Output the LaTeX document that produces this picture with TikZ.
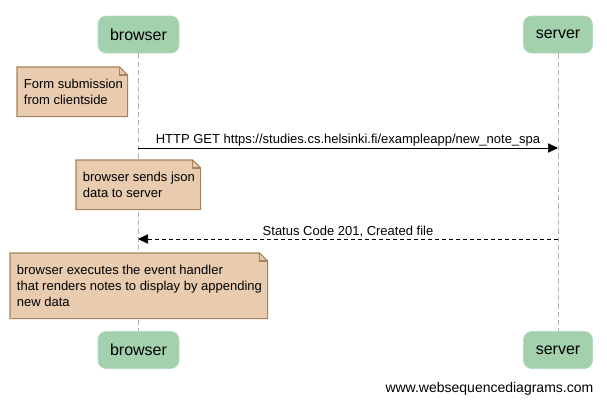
\documentclass[tikz,border=0pt]{standalone}
\usepackage{fontspec}
\setmainfont{Liberation Sans}
\usetikzlibrary{arrows.meta}

\definecolor{actorgreen}{HTML}{A3D0AD}
\definecolor{actorline}{HTML}{B4D9BD}
\definecolor{notefill}{HTML}{E9CBAF}
\definecolor{noteline}{HTML}{A5825A}
\definecolor{lifegray}{HTML}{B4B4B4}

% folded-corner outline round a note node
\newcommand{\notefold}[1]{%
  \filldraw[fill=notefill, draw=noteline, thick]
    (#1.south west) -- (#1.north west) -- ([xshift=-6pt]#1.north east)
    -- ([yshift=-6pt]#1.north east) -- (#1.south east) -- cycle;
  \draw[noteline, thick] ([xshift=-6pt]#1.north east)
    |- ([yshift=-6pt]#1.north east);
}

\begin{document}
\begin{tikzpicture}[x=0.75pt, y=-0.75pt,
    actor/.style ={rectangle, rounded corners=6pt, fill=actorgreen, draw=actorline,
                   minimum height=27.75pt, font=\fontsize{12}{14}\selectfont},
    notebox/.style ={rectangle, align=left, anchor=north west, inner xsep=5pt,
                     font=\fontsize{9.75}{12}\selectfont},
    lifeline/.style ={lifegray, dash pattern=on 4pt off 2.25pt},
    msg/.style ={font=\fontsize{9.75}{12}\selectfont, inner sep=1.5pt},
    call/.style ={-{Triangle[length=7.5pt,width=7pt]}},
    reply/.style ={call, dash pattern=on 3pt off 2.25pt}]
   \useasboundingbox (0,0) rectangle (607,404);
   % participants
   \node[actor, minimum width=60.75pt] (browserTop) at (138.5,34.5) {browser};
   \node[actor, minimum width=51.75pt] (serverTop) at (558,34.5) {server};
   \node[actor, minimum width=60.75pt] (browserBot) at (138.5,350) {browser};
   \node[actor, minimum width=51.75pt] (serverBot) at (558,350) {server};
   \draw[lifeline] (browserTop) -- (browserBot);
   \draw[lifeline] (serverTop) -- (serverBot);
   % notes
   \node[notebox, minimum width=82.5pt, minimum height=36.75pt] (formNote) at (17,67) {};
   \notefold{formNote}
   \node[notebox] at (formNote.west) [anchor=west] {Form submission\\from clientside};
   \node[notebox, minimum width=93pt, minimum height=36.75pt] (jsonNote) at (76,160) {};
   \notefold{jsonNote}
   \node[notebox] at (jsonNote.west) [anchor=west] {browser sends json\\data to server};
   \node[notebox, minimum width=192.75pt, minimum height=48.75pt] (handlerNote) at (10,253) {};
   \notefold{handlerNote}
   \node[notebox] at (handlerNote.west) [anchor=west]
     {browser executes the event handler\\that renders notes to display by appending\\new data};
   % messages
   \coordinate (getB) at (138,148);
   \coordinate (getS) at (558,148);
   \coordinate (okS) at (558,239);
   \coordinate (okB) at (138,239);
   \draw[call] (getB) -- node[msg, above] {HTTP GET https://studies.cs.helsinki.fi/exampleapp/new\_note\_spa} (getS);
   \draw[reply] (okS) -- node[msg, above] {Status Code 201, Created file} (okB);
   % footer
   \node[font=\fontsize{10.5}{12}\selectfont, anchor=east] (footer) at (598,389) {www.websequencediagrams.com};
 \end{tikzpicture}
\end{document}
